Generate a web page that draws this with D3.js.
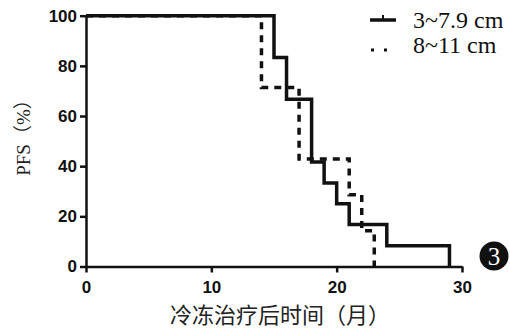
<!DOCTYPE html>
<html>
<head>
<meta charset="utf-8">
<script src="https://cdn.jsdelivr.net/npm/d3@7"></script>
<style>
  html, body { margin: 0; padding: 0; background: #fff; }
  .axis text { font: bold 17px "Liberation Sans", Arial, sans-serif; fill: #111; }
  .axis path, .axis line { stroke: #111; stroke-width: 2.5; }
</style>
</head>
<body>
<div class="km-chart"></div>
<script>
// survival steps
var timesSmall = [0, 15, 16, 18, 19, 20, 21, 24, 29];
var pfsSmall = [100, 83.3, 66.7, 41.7, 33.3, 25, 16.7, 8.3, 0];
var timesLarge = [0, 14, 17, 21, 22, 23];
var pfsLarge = [100, 71.4, 42.9, 28.6, 14.3, 0];

var seriesNames = ['3~7.9 cm', '8~11 cm'];
var xTicks = [0, 10, 20, 30];
var yTicks = [0, 20, 40, 60, 80, 100];
var xTitle = '冷冻治疗后时间（月）';
var yTitle = 'PFS（%）';
var panelLabel = '3';

var width = 510, height = 331;

var svg = d3.select('.km-chart').append('svg')
  .attr('width', width)
  .attr('height', height);

var x = d3.scaleLinear().domain([0, 30]).range([86, 462]);
var y = d3.scaleLinear().domain([0, 100]).range([266.5, 15.7]);

var line = d3.line()
  .x(function (d) { return x(d[0]); })
  .y(function (d) { return y(d[1]); })
  .curve(d3.curveStepAfter);

var dashedData = d3.zip(timesLarge, pfsLarge);
var solidData = d3.zip(timesSmall, pfsSmall);

svg.append('path')
  .datum(dashedData)
  .attr('d', line)
  .attr('fill', 'none')
  .attr('stroke', '#111')
  .attr('stroke-width', 3.5)
  .attr('stroke-dasharray', '7,6');

svg.append('path')
  .datum(solidData)
  .attr('d', line)
  .attr('fill', 'none')
  .attr('stroke', '#111')
  .attr('stroke-width', 3.5);

// axes
svg.append('g')
  .attr('class', 'axis')
  .attr('transform', 'translate(0,' + y(0) + ')')
  .call(d3.axisBottom(x).tickValues(xTicks).tickSize(6).tickSizeOuter(0).tickPadding(8));

svg.append('g')
  .attr('class', 'axis')
  .attr('transform', 'translate(' + x(0) + ',0)')
  .call(d3.axisLeft(y).tickValues(yTicks).tickSize(6).tickSizeOuter(0).tickPadding(3));

// axis titles
svg.append('text')
  .attr('x', 280)
  .attr('y', 323)
  .attr('text-anchor', 'middle')
  .style('font', '22px "Noto Sans CJK SC", sans-serif')
  .style('fill', '#222')
  .text(xTitle);

svg.append('text')
  .attr('transform', 'translate(30,133) rotate(-90)')
  .attr('text-anchor', 'middle')
  .style('font', '19px "Liberation Serif", "Noto Sans CJK SC", serif')
  .style('fill', '#222')
  .text(yTitle);

// legend
var legend = svg.append('g').attr('class', 'legend');
legend.append('line')
  .attr('x1', 370).attr('x2', 396)
  .attr('y1', 20).attr('y2', 20)
  .attr('stroke', '#111').attr('stroke-width', 3.5);
legend.append('line')
  .attr('x1', 383).attr('x2', 383)
  .attr('y1', 20).attr('y2', 15)
  .attr('stroke', '#111').attr('stroke-width', 2);
legend.append('line')
  .attr('x1', 371).attr('x2', 396)
  .attr('y1', 50).attr('y2', 50)
  .attr('stroke', '#111').attr('stroke-width', 3)
  .attr('stroke-dasharray', '3,10');

legend.selectAll('.legend-label')
  .data(seriesNames)
  .enter()
  .append('text')
  .attr('class', 'legend-label')
  .attr('x', 413)
  .attr('y', function (d, i) { return 28 + i * 25; })
  .style('font', '24px "Liberation Serif", "Times New Roman", serif')
  .style('fill', '#111')
  .text(function (d) { return d; });

// panel marker
svg.append('circle')
  .attr('cx', 494).attr('cy', 256).attr('r', 14.5)
  .attr('fill', '#111');
svg.append('text')
  .attr('x', 494).attr('y', 265)
  .attr('text-anchor', 'middle')
  .style('font', '25px "Liberation Serif", serif')
  .style('fill', '#fff')
  .text(panelLabel);
</script>
</body>
</html>
